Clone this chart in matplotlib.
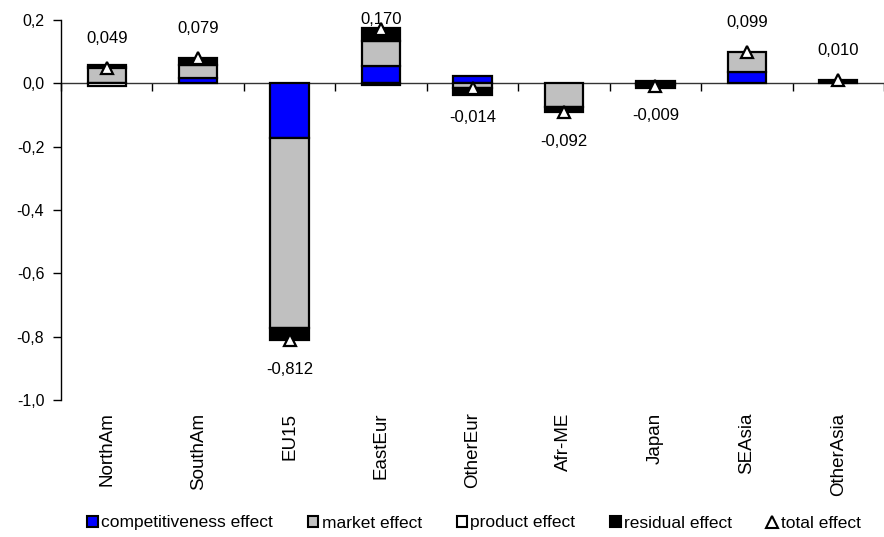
import matplotlib
matplotlib.use("Agg")
import matplotlib.pyplot as plt
from matplotlib.patches import Patch
from matplotlib.lines import Line2D
import numpy as np

plt.rcParams['font.family'] = ['Liberation Sans', 'DejaVu Sans']

categories = ["NorthAm", "SouthAm", "EU15", "EastEur", "OtherEur", "Afr-ME", "Japan", "SEAsia", "OtherAsia"]
competitiveness = [0.000, 0.016, -0.172, 0.055, 0.024, 0.000, -0.005, 0.037, 0.000]
market          = [0.050, 0.042, -0.601, 0.080, -0.016, -0.075, 0.006, 0.062, 0.000]
product         = [-0.010, 0.000, 0.000, -0.005, 0.000, 0.000, 0.000, 0.000, 0.000]
residual        = [0.009, 0.021, -0.039, 0.040, -0.022, -0.017, -0.010, 0.000, 0.010]
total           = [0.049, 0.079, -0.812, 0.170, -0.014, -0.092, -0.009, 0.099, 0.010]
yticks = [0.2, 0.0, -0.2, -0.4, -0.6, -0.8, -1.0]

series = [
    ("competitiveness effect", competitiveness, "#0000FF"),
    ("market effect", market, "#C0C0C0"),
    ("product effect", product, "#FFFFFF"),
    ("residual effect", residual, "#000000"),
]

fig = plt.figure(figsize=(8.84, 5.37), dpi=100)
ax = fig.add_axes([61/884, 137/537, 823/884, 380/537])

x = np.arange(len(categories))
pos_cum = np.zeros(len(categories))
neg_cum = np.zeros(len(categories))
bw = 0.42
for name, vals, col in series:
    v = np.array(vals, dtype=float)
    for i in range(len(v)):
        if v[i] == 0:
            continue
        if v[i] > 0:
            b = pos_cum[i]
            pos_cum[i] += v[i]
        else:
            b = neg_cum[i]
            neg_cum[i] += v[i]
        ax.bar(x[i], v[i], bottom=b, width=bw, color=col, edgecolor='black',
               linewidth=1.6, zorder=3)

ax.plot(x, total, linestyle='none', marker='^', markersize=9, markerfacecolor='white',
        markeredgecolor='black', markeredgewidth=1.6, zorder=5, clip_on=False)

off = 0.093
for xi, t in zip(x, total):
    ly = t + off if t >= 0 else t - off
    ly = min(ly, 0.2)
    ax.text(xi, ly, f"{t:.3f}".replace('.', ','), ha='center', va='center',
            fontsize=12, zorder=6, clip_on=False)

ax.set_xlim(-0.5, len(categories) - 0.5)
ax.set_ylim(-1.0, 0.2)
ax.set_yticks(yticks)
ax.set_yticklabels([f"{t:.1f}".replace('.', ',') for t in yticks], fontsize=11.5)
ax.tick_params(axis='y', direction='out', length=6, width=1, pad=6, colors='black')

ax.set_xticks(x)
ax.set_xticklabels(categories, rotation=90, fontsize=13.5)
ax.tick_params(axis='x', length=0, pad=9)

for s in ['top', 'right', 'bottom']:
    ax.spines[s].set_visible(False)
ax.spines['left'].set_linewidth(1)
ax.spines['left'].set_color('black')

sec = ax.secondary_xaxis(0, transform=ax.transData)
sec.set_xticks(np.arange(len(categories) + 1) - 0.5)
sec.set_xticklabels([])
sec.tick_params(direction='out', length=6, width=1, colors='black')
sec.spines['bottom'].set_linewidth(1)
sec.spines['bottom'].set_color('#333333')
for s in ['top', 'left', 'right']:
    if s in sec.spines:
        sec.spines[s].set_visible(False)

handles = [Patch(facecolor=c, edgecolor='black', linewidth=1.5, label=n) for n, _, c in series]
handles.append(Line2D([], [], linestyle='none', marker='^', markersize=8, markerfacecolor='white',
                      markeredgecolor='black', markeredgewidth=1.5, label='total effect'))
fig.legend(handles=handles, loc='center', bbox_to_anchor=(474/884, 1 - 523/537), ncol=5,
           frameon=False, fontsize=12.5, handlelength=0.6, handleheight=0.6,
           handletextpad=0.2, columnspacing=2.0, borderaxespad=0)

fig.savefig("out.png", dpi=100)
